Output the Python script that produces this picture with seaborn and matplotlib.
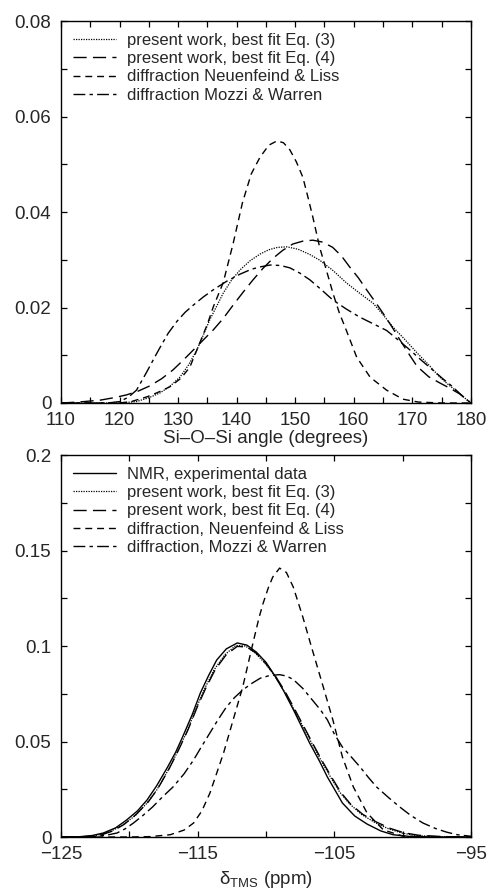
import matplotlib
matplotlib.use("Agg")
import matplotlib.pyplot as plt
from matplotlib.ticker import MultipleLocator, FuncFormatter
import seaborn as sns

# ---- top panel: Si-O-Si angle distributions ----
angle_eq3 = [110, 118, 121, 122.9, 125, 126.9, 128.6, 130.3, 131.8, 133.2, 134.3, 135.4, 136.6,
             137.7, 139.1, 140.6, 142.3, 144, 145.5, 147, 148.6, 150.5, 152.5, 154.2, 156.5,
             158.8, 161, 163.3, 165, 166.7, 168.8, 170.8, 172.8, 174.7, 176.4, 178.1, 179, 180]
dens_eq3 = [0, 0, 0.0001, 0.0003, 0.0011, 0.0021, 0.0035, 0.0054, 0.008, 0.0111, 0.0142, 0.0174,
            0.0203, 0.023, 0.0257, 0.0279, 0.0298, 0.0312, 0.0321, 0.0326, 0.0327, 0.0322, 0.0311,
            0.0299, 0.0277, 0.0251, 0.023, 0.0209, 0.0185, 0.0159, 0.0132, 0.0105, 0.008, 0.0054,
            0.0036, 0.002, 0.001, 0]

angle_eq4 = [110, 113, 116.7, 119, 121.2, 123.2, 125.2, 127.2, 129.1, 130.9, 132.6, 134.3, 136,
             137.7, 139.4, 141.1, 142.8, 144.5, 146.2, 147.9, 149.6, 151.3, 153, 154.7, 156.4,
             157.9, 159.3, 160.8, 162.2, 163.6, 165, 166.5, 167.9, 169.4, 170.8, 172.8, 174.7,
             176.4, 178.1, 179.2, 180]
dens_eq4 = [0, 0.0002, 0.0006, 0.0011, 0.0017, 0.0025, 0.0036, 0.0051, 0.0069, 0.009, 0.0111,
            0.0132, 0.0153, 0.0177, 0.0205, 0.0232, 0.0258, 0.0282, 0.0303, 0.032, 0.0333, 0.0339,
            0.0341, 0.0337, 0.0326, 0.0308, 0.0285, 0.0262, 0.0237, 0.0213, 0.0188, 0.016, 0.0132,
            0.0103, 0.0077, 0.0055, 0.0042, 0.0031, 0.0019, 0.0009, 0]

angle_nl = [110, 115, 120, 122, 124.7, 126.5, 128.6, 130.5, 132, 133.7, 135, 136, 137.7, 139.4,
            141, 142.5, 144, 145.5, 146.9, 148, 149.1, 150.2, 151.3, 152.2, 153, 154.2, 155.4,
            156.5, 157.5, 158.8, 160.5, 162.8, 165.6, 168.4, 171, 175, 180]
dens_nl = [0, 0, 0, 0.0003, 0.0013, 0.0022, 0.0034, 0.0052, 0.0075, 0.0126, 0.0165, 0.0201,
           0.0252, 0.0334, 0.042, 0.048, 0.0515, 0.054, 0.0549, 0.0545, 0.053, 0.0505, 0.0473,
           0.043, 0.039, 0.0325, 0.0275, 0.0228, 0.019, 0.015, 0.0096, 0.0054, 0.0027, 0.0008,
           0.0002, 0, 0]

angle_mw = [110, 118, 120, 121.5, 122.9, 124.6, 126, 126.9, 128.3, 129.8, 131.2, 132.6, 134.3,
            136, 138.3, 140.6, 142.5, 144, 145.7, 147.5, 149.1, 150.8, 152.5, 154.5, 156.4,
            158.7, 161, 163.3, 165.6, 167.6, 169.6, 171.5, 173.5, 175.2, 176.9, 178.5, 180]
dens_mw = [0, 0, 0.0003, 0.0012, 0.0027, 0.0064, 0.0096, 0.0116, 0.0146, 0.0171, 0.019, 0.0205,
           0.0222, 0.0237, 0.0255, 0.027, 0.028, 0.0285, 0.0289, 0.0288, 0.0283, 0.0272, 0.0258,
           0.0237, 0.0216, 0.0197, 0.018, 0.0166, 0.0152, 0.0132, 0.0111, 0.009, 0.0069, 0.0051,
           0.0034, 0.0015, 0]

# ---- bottom panel: 29Si chemical shift distributions ----
ppm_nmr = [-125, -123.6, -122.7, -121.9, -121, -120.2, -119.4, -118.7, -118, -117.2, -116.6,
           -116.1, -115.4, -114.8, -114.2, -113.6, -112.9, -112.1, -111.4, -110.7, -110, -109.4,
           -108.7, -108, -107.4, -106.8, -106.1, -105.5, -104.9, -104.4, -103.5, -102.6, -101.6,
           -100.7, -99.5, -98, -95]
dens_nmr = [0, 0.0001, 0.0008, 0.0021, 0.0048, 0.0089, 0.0137, 0.0194, 0.0268, 0.0366, 0.0445,
            0.0524, 0.064, 0.0754, 0.0845, 0.0927, 0.0985, 0.1016, 0.1005, 0.0968, 0.0915, 0.085,
            0.0765, 0.0668, 0.058, 0.0492, 0.04, 0.0314, 0.024, 0.0178, 0.011, 0.0068, 0.0032,
            0.0012, 0.0003, 0, 0]

ppm_eq3 = [-125, -123.2, -122.3, -121.4, -120.5, -119.6, -118.7, -118, -117.2, -116.5, -115.8,
           -115.1, -114.5, -113.8, -113, -112.2, -111.5, -110.8, -110.1, -109.4, -108.7, -108,
           -107.3, -106.6, -105.9, -105.2, -104.6, -103.9, -103, -102, -101, -100, -99, -97.5, -95]
dens_eq3b = [0, 0.0002, 0.001, 0.0028, 0.0062, 0.011, 0.0178, 0.0245, 0.0345, 0.0442, 0.055,
             0.0675, 0.0775, 0.0875, 0.0955, 0.1003, 0.1, 0.0965, 0.0912, 0.0848, 0.0768, 0.0675,
             0.058, 0.0485, 0.0392, 0.0305, 0.0235, 0.0175, 0.0118, 0.0075, 0.0042, 0.002, 0.0008,
             0.0002, 0]

ppm_eq4 = [-125, -123, -122, -121.2, -120.4, -119.5, -118.6, -117.9, -117.1, -116.4, -115.7, -115,
           -114.4, -113.7, -112.9, -112.1, -111.4, -110.7, -110, -109.3, -108.6, -107.9, -107.2,
           -106.5, -105.8, -105.1, -104.5, -103.8, -102.9, -101.9, -100.9, -99.9, -98.8, -97, -95]
dens_eq4b = [0, 0.0003, 0.0012, 0.0032, 0.0065, 0.0118, 0.0185, 0.0255, 0.0355, 0.0455, 0.0562,
             0.0685, 0.078, 0.0878, 0.0955, 0.0998, 0.0995, 0.0962, 0.0908, 0.0842, 0.0762, 0.067,
             0.0575, 0.048, 0.0388, 0.0302, 0.0232, 0.0172, 0.0118, 0.0078, 0.0045, 0.0022,
             0.0009, 0.0002, 0]

ppm_nl = [-125, -120, -118.5, -117, -116, -115.3, -114.7, -114.1, -113.6, -113.1, -112.4, -111.7,
          -111, -110.5, -110.2, -109.8, -109.5, -109, -108.5, -108, -107.3, -106.6, -105.8,
          -105.1, -104.4, -103.6, -102.6, -101.4, -100, -98, -95]
dens_nlb = [0, 0, 0.0002, 0.0012, 0.0036, 0.0073, 0.0135, 0.023, 0.0335, 0.044, 0.0613, 0.0785,
            0.1, 0.115, 0.1225, 0.131, 0.1361, 0.1408, 0.1385, 0.1309, 0.1152, 0.0979, 0.0785,
            0.0613, 0.0419, 0.0262, 0.0126, 0.0037, 0.0005, 0, 0]

ppm_mw = [-125, -122.5, -121.7, -120.9, -120.3, -119.7, -119, -118.3, -117.6, -116.8, -116,
          -115.3, -114.7, -114.1, -113.5, -112.9, -112.3, -111.7, -111, -110.4, -109.7, -109,
          -108.5, -108, -107.3, -106.6, -106, -105.5, -105, -104.4, -103.7, -103.1, -102.5,
          -101.9, -101, -100.2, -99.4, -98.5, -97.6, -96.8, -96, -95]
dens_mwb = [0, 0.0003, 0.0009, 0.0021, 0.0043, 0.0073, 0.0113, 0.0157, 0.0208, 0.0262, 0.033,
            0.0403, 0.0475, 0.0545, 0.0615, 0.068, 0.073, 0.077, 0.0806, 0.0832, 0.0846, 0.085,
            0.0843, 0.0825, 0.0778, 0.0717, 0.0665, 0.0613, 0.054, 0.0471, 0.0415, 0.0366,
            0.0312, 0.0262, 0.0205, 0.0157, 0.0113, 0.0073, 0.0045, 0.0026, 0.0012, 0.0004]

# line styles
DOT = (0, (1, 1))
LONG = (0, (9.5, 4.5))
SHORT = (0, (5, 3.5))
DASHDOT = (0, (8.5, 3, 2.5, 3))

sns.set_style("ticks")
plt.rcParams["font.family"] = ["Liberation Sans", "DejaVu Sans"]
plt.rcParams["mathtext.fontset"] = "custom"
plt.rcParams["mathtext.rm"] = "Liberation Sans"
plt.rcParams["axes.unicode_minus"] = True

fig = plt.figure(figsize=(4.92, 8.91), dpi=100)
ax1 = fig.add_axes([0.124, 0.5477, 0.833, 0.4287])
ax2 = fig.add_axes([0.124, 0.0606, 0.833, 0.4287])


def line(ax, x, y, ls, label, lw=1.0):
    sns.lineplot(x=x, y=y, ax=ax, color="black", linewidth=lw, linestyle=ls,
                 sort=False, estimator=None, label=label)


line(ax1, angle_eq3, dens_eq3, DOT, "present work, best fit Eq. (3)", lw=0.9)
line(ax1, angle_eq4, dens_eq4, LONG, "present work, best fit Eq. (4)")
line(ax1, angle_nl, dens_nl, SHORT, "diffraction Neuenfeind & Liss")
line(ax1, angle_mw, dens_mw, DASHDOT, "diffraction Mozzi & Warren")

line(ax2, ppm_nmr, dens_nmr, "-", "NMR, experimental data")
line(ax2, ppm_eq3, dens_eq3b, DOT, "present work, best fit Eq. (3)", lw=0.9)
line(ax2, ppm_eq4, dens_eq4b, LONG, "present work, best fit Eq. (4)")
line(ax2, ppm_nl, dens_nlb, SHORT, "diffraction, Neuenfeind & Liss")
line(ax2, ppm_mw, dens_mwb, DASHDOT, "diffraction, Mozzi & Warren")

fmt = FuncFormatter(lambda v, p: "0" if abs(v) < 1e-12 else f"{v:g}".replace("-", "\u2212"))

ax1.set_xlim(110, 180)
ax1.set_ylim(0, 0.08)
ax1.xaxis.set_major_locator(MultipleLocator(10))
ax1.xaxis.set_minor_locator(MultipleLocator(5))
ax1.yaxis.set_major_locator(MultipleLocator(0.02))
ax1.yaxis.set_minor_locator(MultipleLocator(0.01))
ax1.set_xlabel("Si\u2013O\u2013Si angle (degrees)", fontsize=13.5, labelpad=0.5)

ax2.set_xlim(-125, -95)
ax2.set_ylim(0, 0.2)
ax2.xaxis.set_major_locator(MultipleLocator(10, offset=5))
ax2.xaxis.set_minor_locator(MultipleLocator(5))
ax2.yaxis.set_major_locator(MultipleLocator(0.05))
ax2.yaxis.set_minor_locator(MultipleLocator(0.025))
ax2.set_xlabel(r"$\mathregular{\delta_{TMS}}$ (ppm)", fontsize=13.5, labelpad=4)

for ax in (ax1, ax2):
    ax.set_ylabel("")
    ax.xaxis.set_major_formatter(fmt)
    ax.yaxis.set_major_formatter(fmt)
    ax.tick_params(which="both", direction="in", top=True, right=True, length=4,
                   width=0.9, labelsize=13.5, color="black")
    ax.tick_params(axis="y", pad=7)
    ax.tick_params(axis="x", pad=6.5)
    for s in ax.spines.values():
        s.set_linewidth(1.0)
        s.set_color("black")
    ax.legend(loc="upper left", bbox_to_anchor=(0.0, 1.0), frameon=False, fontsize=12,
              handlelength=2.6, handletextpad=0.65, labelspacing=0.2, borderaxespad=0.3,
              borderpad=0.4)

fig.savefig("out.png", dpi=100)
